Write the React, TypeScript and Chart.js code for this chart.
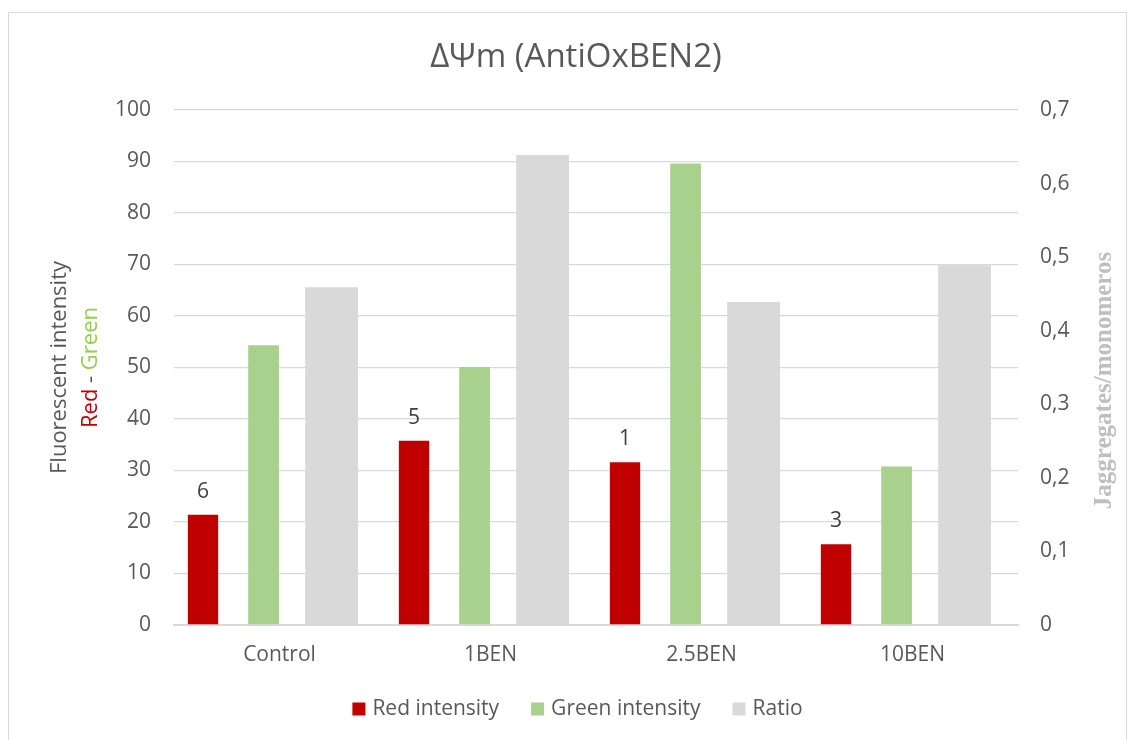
import React, { useEffect, useRef } from 'react';
import { Chart, registerables } from 'chart.js';

Chart.register(...registerables);

const categories = ['Control', '1BEN', '2.5BEN', '10BEN'];
const redIntensity = [21.4, 35.8, 31.6, 15.7];
const greenIntensity = [54.3, 50.1, 89.6, 30.8];
const ratioValues = [0.459, 0.639, 0.439, 0.489];
const redLabels = ['6', '5', '1', '3'];
const seriesNames = ['Red intensity', 'Green intensity', 'Ratio'];
const rightTickLabels = ['0', '0,1', '0,2', '0,3', '0,4', '0,5', '0,6', '0,7'];
const chartTitle = 'ΔΨm (AntiOxBEN2)';
const leftTitle = 'Fluorescent intensity';
const leftSubtitleParts = ['Red', ' - ', 'Green'];
const rightTitle = 'Jaggregates/monomeros';

const RED = '#C00000';
const GREEN = '#A9D18E';
const GRAY = '#D9D9D9';
const TEXT = '#595959';
const FONT = '"Open Sans", "DejaVu Sans", sans-serif';

const decorPlugin = {
  id: 'decor',
  beforeDraw(chart: any) {
    const { ctx, width, height } = chart;
    ctx.save();
    ctx.fillStyle = '#FFFFFF';
    ctx.fillRect(0, 0, width, height);
    ctx.strokeStyle = '#D9D9D9';
    ctx.lineWidth = 1;
    ctx.strokeRect(8.5, 12.5, width - 13, height);
    ctx.restore();
  },
  afterDatasetsDraw(chart: any) {
    const { ctx } = chart;
    const meta = chart.getDatasetMeta(0);
    ctx.save();
    ctx.font = `21px ${FONT}`;
    ctx.fillStyle = '#404040';
    ctx.textAlign = 'center';
    ctx.textBaseline = 'alphabetic';
    meta.data.forEach((bar: any, i: number) => {
      ctx.fillText(redLabels[i], bar.x, bar.y - 17);
    });
    ctx.restore();
  },
  afterDraw(chart: any) {
    const { ctx, chartArea } = chart;
    ctx.save();
    // title
    ctx.font = `33px ${FONT}`;
    ctx.fillStyle = TEXT;
    ctx.textAlign = 'center';
    ctx.textBaseline = 'middle';
    ctx.fillText(chartTitle, 576, 58);

    const midY = (chartArea.top + chartArea.bottom) / 2;
    // left axis title (two lines)
    ctx.save();
    ctx.translate(60, midY);
    ctx.rotate(-Math.PI / 2);
    ctx.font = `22px ${FONT}`;
    ctx.fillStyle = TEXT;
    ctx.textAlign = 'center';
    ctx.textBaseline = 'middle';
    ctx.fillText(leftTitle, 0, 0);
    ctx.restore();

    ctx.save();
    ctx.translate(91, midY);
    ctx.rotate(-Math.PI / 2);
    ctx.font = `22px ${FONT}`;
    ctx.textBaseline = 'middle';
    ctx.textAlign = 'left';
    const partColors = [RED, TEXT, '#92D050'];
    const total = leftSubtitleParts.reduce((s, p) => s + ctx.measureText(p).width, 0);
    let x = -total / 2;
    leftSubtitleParts.forEach((p, i) => {
      ctx.fillStyle = partColors[i];
      ctx.fillText(p, x, 0);
      x += ctx.measureText(p).width;
    });
    ctx.restore();

    // right axis title (reads bottom to top)
    ctx.save();
    ctx.translate(1105, midY + 13);
    ctx.rotate(-Math.PI / 2);
    ctx.font = `bold 25px "Liberation Serif", "Times New Roman", serif`;
    ctx.fillStyle = '#BFBFBF';
    ctx.textAlign = 'center';
    ctx.textBaseline = 'middle';
    ctx.fillText(rightTitle, 0, 0);
    ctx.restore();

    // legend
    const colors = [RED, GREEN, GRAY];
    ctx.font = `21px ${FONT}`;
    ctx.textBaseline = 'middle';
    ctx.textAlign = 'left';
    const box = 13;
    const gapText = 7;
    const gapItem = 32;
    const widths = seriesNames.map((n) => box + gapText + ctx.measureText(n).width);
    const totalW = widths.reduce((a, b) => a + b, 0) + gapItem * (seriesNames.length - 1);
    let lx = 577.5 - totalW / 2;
    const ly = 709;
    seriesNames.forEach((n, i) => {
      ctx.fillStyle = colors[i];
      ctx.fillRect(lx, ly - box / 2, box, box);
      ctx.fillStyle = TEXT;
      ctx.fillText(n, lx + box + gapText, ly);
      lx += widths[i] + gapItem;
    });
    ctx.restore();
  },
};

export default function App() {
  const canvasRef = useRef<HTMLCanvasElement | null>(null);

  useEffect(() => {
    document.body.style.margin = '0';
    const canvas = canvasRef.current;
    if (!canvas) return;
    const chart = new Chart(canvas, {
      type: 'bar',
      data: {
        labels: categories,
        datasets: [
          {
            label: seriesNames[0],
            data: redIntensity,
            backgroundColor: RED,
            yAxisID: 'y',
            categoryPercentage: 0.9667,
            barPercentage: 0.595,
          },
          {
            label: seriesNames[1],
            data: greenIntensity,
            backgroundColor: GREEN,
            yAxisID: 'y',
            categoryPercentage: 0.6036,
            barPercentage: 0.965,
          },
          {
            label: seriesNames[2],
            data: ratioValues,
            backgroundColor: GRAY,
            yAxisID: 'y1',
            categoryPercentage: 1.974,
            barPercentage: 0.507,
          },
          {
            label: '',
            data: categories.map(() => null),
            backgroundColor: 'rgba(0,0,0,0)',
            yAxisID: 'y',
          },
        ],
      },
      options: {
        responsive: false,
        animation: false,
        events: [],
        layout: { padding: { top: 110, left: 0, right: 0, bottom: 0 } },
        plugins: {
          legend: { display: false },
          title: { display: false },
          tooltip: { enabled: false },
        },
        scales: {
          x: {
            grid: { display: false, drawTicks: false },
            border: { display: true, color: GRAY, width: 2 },
            ticks: { color: TEXT, font: { family: FONT, size: 21 }, padding: 17 },
            afterFit: (scale: any) => {
              scale.height = 115;
            },
          },
          y: {
            position: 'left',
            min: 0,
            max: 100,
            ticks: { stepSize: 10, color: TEXT, font: { family: FONT, size: 21 }, padding: 23 },
            grid: { color: GRAY, lineWidth: 1.3, drawTicks: false },
            border: { display: false },
            afterFit: (scale: any) => {
              scale.width = 174;
            },
          },
          y1: {
            position: 'right',
            min: 0,
            max: 0.7,
            ticks: {
              stepSize: 0.1,
              color: TEXT,
              font: { family: FONT, size: 21 },
              padding: 22,
              callback: (_v: any, i: number) => rightTickLabels[i],
            },
            grid: { display: false, drawTicks: false },
            border: { display: false },
            afterFit: (scale: any) => {
              scale.width = 113;
            },
          },
        },
      },
      plugins: [decorPlugin],
    } as any);
    return () => chart.destroy();
  }, []);

  return (
    <div style={{ width: 1131, height: 740 }}>
      <canvas ref={canvasRef} width={1131} height={740} style={{ display: 'block' }} />
    </div>
  );
}
